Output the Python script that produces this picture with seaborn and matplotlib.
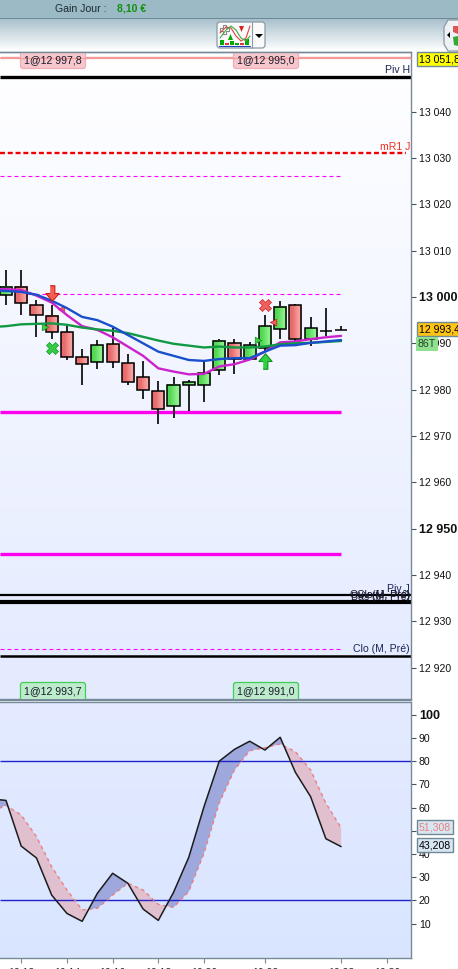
import numpy as np
import matplotlib
matplotlib.use("Agg")
import matplotlib.pyplot as plt
from matplotlib.colors import to_rgb
from matplotlib.patches import FancyBboxPatch, Rectangle, Polygon
import seaborn as sns

# Candles, bar 0 is the first one on the left
opens = [13000.4, 13002.1, 12998.2, 12996.0, 12992.4, 12987.0, 12986.0, 12989.8, 12985.7, 12982.7, 12979.6, 12976.5,
         12981.1, 12981.1, 12984.2, 12990.0, 12986.6, 12989.0, 12993.0, 12998.2, 12991.0, 12992.6, 12992.9]
closes = [13002.2, 12998.6, 12996.2, 12992.5, 12987.1, 12985.6, 12989.6, 12986.0, 12981.7, 12980.0, 12975.9, 12981.1,
          12981.6, 12983.5, 12990.6, 12986.6, 12989.6, 12993.7, 12997.8, 12990.9, 12993.2, 12992.6, 12992.9]
highs = [13005.8, 13005.8, 12999.4, 12998.3, 12994.2, 12988.8, 12990.7, 12993.3, 12987.7, 12986.2, 12981.9, 12982.7,
         12982.1, 12986.0, 12990.9, 12990.9, 12990.3, 12996.1, 12999.1, 12998.5, 12995.7, 12997.6, 12993.7]
lows = [12998.3, 12996.1, 12991.4, 12990.9, 12986.4, 12981.0, 12984.5, 12984.7, 12981.0, 12978.0, 12972.6, 12973.9,
        12975.4, 12977.3, 12983.2, 12983.4, 12986.6, 12988.2, 12990.9, 12990.3, 12989.5, 12991.6, 12992.9]

# Moving averages and stochastic start one bar before the first candle
line_bars = list(range(-1, 23))
ma_blue = [13001.5, 13001.3, 13001.1, 13000.5, 12999.2, 12997.6, 12995.7, 12995.0, 12993.6, 12991.8, 12990.0, 12988.2,
           12987.3, 12986.4, 12986.2, 12986.6, 12986.8, 12986.8, 12988.2, 12989.5, 12989.6, 12990.1, 12990.4, 12990.7]
ma_magenta = [13001.7, 13001.7, 13001.5, 13000.3, 12998.8, 12996.1, 12993.7, 12992.9, 12991.3, 12989.3, 12987.3,
              12984.6, 12983.9, 12983.3, 12983.4, 12985.0, 12985.5, 12986.5, 12988.2, 12990.2, 12990.4, 12990.9,
              12991.3, 12991.6]
ma_green = [12993.5, 12993.7, 12994.1, 12994.2, 12994.3, 12994.0, 12993.4, 12993.0, 12992.7, 12992.2, 12991.4, 12990.6,
            12989.9, 12989.5, 12989.1, 12989.3, 12989.1, 12989.1, 12989.3, 12989.8, 12990.0, 12990.1, 12990.3, 12990.5]
stoch_k = [63.8, 63.1, 43.4, 38.3, 22.3, 14.4, 11.0, 23.1, 31.7, 27.4, 16.3, 11.4,
           23.5, 38.6, 60.4, 80.0, 85.1, 88.6, 84.8, 90.3, 75.2, 64.7, 46.6, 43.2]
stoch_d = [58.0, 61.0, 56.8, 47.5, 34.5, 24.5, 15.9, 16.6, 22.3, 27.4, 24.5, 18.3,
           17.0, 23.8, 40.3, 62.0, 76.2, 84.5, 85.8, 87.4, 84.1, 76.2, 61.9, 51.3]

price_ticks = [13040, 13030, 13020, 13010, 13000, 12990, 12980, 12970, 12960, 12950, 12940, 12930, 12920]
price_labels = ["13 040", "13 030", "13 020", "13 010", "13 000", "12 990", "12 980", "12 970", "12 960", "12 950",
                "12 940", "12 930", "12 920"]
stoch_ticks = [100, 90, 80, 70, 60, 50, 40, 30, 20, 10]
time_bars = [1, 4, 7, 10, 13, 17, 22, 25]
time_labels = ["10:12", "10:14", "10:16", "10:18", "10:20", "10:22", "10:28", "10:30"]

# Horizontal levels
last_price = 12993.4
piv_h = 13047.5
mr1_j = 13031.1
dash_levels = [13026.1, 13000.6, 12923.9]
thick_magenta = [12975.2, 12944.5]
black_levels = [12935.6, 12934.1, 12922.5]
top_line = 13051.8

# Signals: bar, price
arrow_down = (3, 13000.8)
arrow_up = (17, 12986.2)
cross_green = (3, 12989.0)
cross_red = (17, 12998.3)
tri_green = ([2.56, 16.55], [12993.5, 12990.7])
tri_red = ([3.58, 17.5], [12997.4, 12994.7])

W, H = 458, 969
sns.set_style("white")
plt.rcParams['font.family'] = ['Liberation Sans', 'DejaVu Sans']
plt.rcParams['font.size'] = 7.6


def panel(fig, x0, y0, x1, y1):
    return fig.add_axes([x0 / W, 1 - y1 / H, (x1 - x0) / W, (y1 - y0) / H])


def vgrad(ax, extent, top, bottom, zorder=0):
    t, b = np.array(to_rgb(top)), np.array(to_rgb(bottom))
    a = np.linspace(0, 1, 128)[:, None, None]
    ax.imshow(t + (b - t) * a, extent=extent, aspect='auto', origin='upper', zorder=zorder)


fig = plt.figure(figsize=(W / 100, H / 100), dpi=100, facecolor='white')
ax = panel(fig, 0, 52, 411, 699)
ind = panel(fig, 0, 702, 411, 958)
xlim = (-0.394, 26.59)
spine_col = '#778a99'

# ---- price panel
vgrad(ax, (xlim[0], xlim[1], 12913.2, 13052.9), '#ffffff', '#e4ebff')
ax.vlines(range(len(opens)), lows, highs, color='black', lw=1.2, zorder=2)
for i in range(len(opens)):
    lo, hi = min(opens[i], closes[i]), max(opens[i], closes[i])
    up = closes[i] >= opens[i]
    c = ('#52d852', '#8cf08c') if up else ('#e86a6a', '#f6a0a0')
    rgb = np.array([[to_rgb(c[0]), to_rgb(c[1])]])
    ax.imshow(rgb, extent=(i - 0.4, i + 0.4, lo, hi), aspect='auto', interpolation='bilinear', zorder=3)
    ax.add_patch(Rectangle((i - 0.4, lo), 0.8, hi - lo, fill=False, ec='black', lw=1.1, zorder=3.5))

ax.hlines(top_line, *xlim, color='#f59a9a', lw=1, zorder=1)
ax.hlines(piv_h, *xlim, color='black', lw=2.4, zorder=1)
ax.hlines(mr1_j, xlim[0], 26.27, color='#f00000', lw=1.7, linestyles=(0, (2.1, 1.2)), zorder=1)
ax.hlines(dash_levels, xlim[0], 22, color='#ff00ff', lw=0.8, linestyles=(0, (3.5, 2.8)), zorder=1)
ax.hlines(thick_magenta, xlim[0], 22, color='#ff00ee', lw=2.4, zorder=1)
ax.hlines(black_levels[0], *xlim, color='black', lw=1.6, zorder=1)
ax.hlines(black_levels[1], *xlim, color='black', lw=3, zorder=1)
ax.hlines(black_levels[2], *xlim, color='black', lw=1.8, zorder=1)

sns.lineplot(x=line_bars, y=ma_magenta, ax=ax, color='#cc22cc', lw=1.7, errorbar=None, zorder=4)
sns.lineplot(x=line_bars, y=ma_green, ax=ax, color='#119944', lw=1.7, errorbar=None, zorder=4.1)
sns.lineplot(x=line_bars, y=ma_blue, ax=ax, color='#1a4fcc', lw=1.7, errorbar=None, zorder=4.2)

down = [(-0.3, 1), (0.3, 1), (0.3, 0), (0.85, 0), (0, -1), (-0.85, 0), (-0.3, 0)]
up_shape = [(x, -y) for x, y in down]
ax.scatter(*arrow_down, marker=down, s=125, color='#f06050', edgecolor='#d01818', lw=0.8, zorder=5)
ax.scatter(*arrow_up, marker=up_shape, s=125, color='#30d040', edgecolor='#109020', lw=0.8, zorder=5)
ax.scatter(*cross_green, marker='X', s=75, color='#33cc44', edgecolor='#119922', lw=0.5, zorder=5)
ax.scatter(*cross_red, marker='X', s=75, color='#f06060', edgecolor='#cc2222', lw=0.5, zorder=5)
ax.scatter(*tri_green, marker='>', s=22, color='#40d040', edgecolor='#109020', lw=0.5, zorder=3.8)
ax.scatter(tri_red[0], tri_red[1], marker='<', s=22, color='#f06060', edgecolor='#cc2222', lw=0.5, zorder=3.8)

ax.set_xlim(xlim)
ax.set_ylim(12913.2, 13052.9)
ax.yaxis.tick_right()
ax.set_yticks(price_ticks, price_labels)
ax.set_xticks([])

# ---- stochastic panel
vgrad(ind, (xlim[0], xlim[1], -4.8, 105.5), '#e4ebff', '#d9e5ff')
k, d = np.array(stoch_k), np.array(stoch_d)
ind.fill_between(line_bars, k, d, where=k >= d, interpolate=True, color='#9fa8dc', lw=0, zorder=1)
ind.fill_between(line_bars, k, d, where=k <= d, interpolate=True, color='#e0bfcf', lw=0, zorder=1)
ind.hlines([80, 20], *xlim, color='#2222cc', lw=1, zorder=2)
sns.lineplot(x=line_bars, y=stoch_d, ax=ind, color='#ea8080', lw=1, linestyle=(0, (2.5, 2.5)), errorbar=None, zorder=3)
sns.lineplot(x=line_bars, y=stoch_k, ax=ind, color='#1c1c1c', lw=1.1, errorbar=None, zorder=4)
ind.set_xlim(xlim)
ind.set_ylim(-4.8, 105.5)
ind.yaxis.tick_right()
ind.set_yticks(stoch_ticks)
ind.set_xticks(time_bars, time_labels)

for a in (ax, ind):
    for s in a.spines.values():
        s.set_visible(True)
        s.set_color(spine_col)
        s.set_linewidth(1)
    a.spines['left'].set_visible(False)
    a.tick_params(axis='y', length=3.6, width=0.8, color='#445566', pad=2, labelsize=7.6,
                  labelcolor='#111111', left=False, right=True)
ind.tick_params(axis='x', length=3.6, width=0.8, color=spine_col, pad=3.4, labelsize=7.6, bottom=True)

# round values are printed heavier
for lab, t in zip(ax.get_yticklabels(), price_ticks):
    if t in (13000, 12950):
        lab.set_fontweight('bold')
        lab.set_fontsize(9)
for lab, t in zip(ind.get_yticklabels(), stoch_ticks):
    if t == 100:
        lab.set_fontweight('bold')
        lab.set_fontsize(9)

# ---- window chrome and tags, drawn in pixel coordinates
ov = fig.add_axes([0, 0, 1, 1], zorder=10)
ov.set_xlim(0, W)
ov.set_ylim(H, 0)
ov.axis('off')
ov.patch.set_visible(False)
ov.add_patch(Rectangle((0, 0), W, 18.5, color='#9cb9c6', lw=0))
ov.add_patch(Rectangle((0, 18), W, 1.2, color='#6f8a96', lw=0))
vgrad(ov, (0, W, 51, 19.5), '#a9c1cd', '#ffffff')
ov.set_xlim(0, W)
ov.set_ylim(H, 0)
ov.text(55, 8.5, "Gain Jour :", ha='left', va='center', fontsize=7.6, color='#1a2a30')
ov.text(117, 8.5, "8,10 €", ha='left', va='center', fontsize=7.6, fontweight='bold', color='#109010')

# indicator button
ov.add_patch(FancyBboxPatch((217, 22), 48, 26, boxstyle='round,pad=0,rounding_size=3', fc='#fafafa', ec='#8a9aa6', lw=0.9))
ov.plot([252, 252], [22, 48], color='#8a9aa6', lw=0.8)
ov.add_patch(Polygon([(255, 34), (263, 34), (259, 38)], color='black', lw=0))
for bx, bh, col in [(220, 5, '#00aa00'), (225, 2, '#dd3344'), (230, 4, '#00aa00'), (235, 2, '#00aa00'),
                    (240, 2, '#dd3344'), (245, 6, '#00aa00')]:
    ov.add_patch(Rectangle((bx, 45 - bh), 4, bh, color=col, lw=0))
ov.plot([219, 250], [45.5, 45.5], color='#2040c0', lw=0.8)
ov.plot([220, 226, 231, 236, 241, 246, 250], [33, 27, 28, 36, 41, 38, 26], color='#dd4444', lw=0.8)
ov.plot([220, 226, 231, 236, 241, 246, 250], [38, 30, 26, 30, 38, 41, 36], color='#44aa44', lw=0.8)
ov.add_patch(Polygon([(223, 25), (226, 25), (226, 28), (229, 28), (229, 31), (226, 31), (226, 34), (223, 34),
                      (223, 31), (220, 31), (220, 28), (223, 28)], fc='white', ec='#888888', lw=0.8))
ov.add_patch(Polygon([(228, 40), (233, 40), (230.5, 34)], color='#00aa00', lw=0))
ov.add_patch(Polygon([(239, 26), (244, 26), (241.5, 32)], color='#dd2222', lw=0))

# side button on the right edge
ov.add_patch(Polygon([(448, 20), (460, 20), (460, 51), (448, 51), (444, 44), (444, 27)], fc='#eef2f5', ec='#8a9aa6', lw=0.9))
ov.add_patch(Polygon([(447, 35), (450, 32), (450, 38)], color='black', lw=0))
ov.add_patch(Polygon([(453, 26), (458, 26), (458, 34), (453, 32)], color='#dd5555', lw=0))
ov.add_patch(Polygon([(453, 37), (458, 36), (458, 46), (454, 45)], color='#33aa33', lw=0))

# order chips, cut flat by the panel edge
chip_text = ["1@12 997,8", "1@12 995,0", "1@12 993,7", "1@12 991,0"]
chip_pos = [(20.5, 46), (233.5, 46), (20.5, 682.5), (233.5, 682.5)]
chip_clip = Rectangle((0, 52), 411, 647, transform=ov.transData)
for n, (txt, (cx, cy)) in enumerate(zip(chip_text, chip_pos)):
    fc, ec = ('#f6c8ce', '#f2aeb6') if n < 2 else ('#bdeccd', '#44cc55')
    h = 22.5
    chip = FancyBboxPatch((cx, cy), 65, h, boxstyle='round,pad=0,rounding_size=2.5', fc=fc, ec=ec, lw=0.9)
    ov.add_patch(chip)
    chip.set_clip_path(chip_clip)
    ov.text(cx + 32.5, 60.5 if n < 2 else 691, txt, ha='center', va='center', fontsize=7.6, color='#1a1a2a')
ov.plot([0, 411], [57.5, 57.5], color='#f59a9a', lw=0.9)
ov.plot([0, 411], [51.5, 51.5], color=spine_col, lw=1)
ov.plot([0, 411], [699.5, 699.5], color=spine_col, lw=1)

# level names
label_col = '#1a2450'
ov.text(410, 70, "Piv H", ha='right', va='center', color=label_col)
ov.text(410, 146.5, "mR1 J", ha='right', va='center', color='#f03020')
ov.text(410, 588.5, "Piv J", ha='right', va='center', color=label_col)
for yy, txt in [(594.5, "Ouv (M, Pré)"), (595.5, "Clo (J, Pré)"), (597, "Bas (M, Pré)")]:
    ov.text(410, yy, txt, ha='right', va='center', color='#1a1a30')
ov.text(410, 649.5, "Clo (M, Pré)", ha='right', va='center', color=label_col)

# value tags on the axis
tag_rows = [(417, 52, "13 051,8", '#ffff00', '#6f8a96', 'black'),
            (417, 322, "12 993,4", '#ffc414', '#6f8a96', 'black'),
            (417, 820, "51,308", '#d8e6f2', '#6f8a96', '#e88080'),
            (417, 838, "43,208", '#d8e6f2', '#6f8a96', 'black')]
for tx, ty, txt, fc, ec, tc in tag_rows:
    tw = 60 if tc == 'black' and fc != '#d8e6f2' else 35.5
    th = 14
    ov.add_patch(Rectangle((tx, ty), tw, th, fc=fc, ec=ec, lw=1))
    ov.text(tx + 2, ty + th / 2 + 0.3, txt, ha='left', va='center', fontsize=7.6, color=tc)
ov.add_patch(Rectangle((416, 337), 22, 14, fc='#90e090', ec='none'))
ov.text(418, 344.3, "86T", ha='left', va='center', fontsize=7.6, color='#224422')
ov.set_xlim(0, W)
ov.set_ylim(H, 0)

fig.savefig('out.png', dpi=100)
